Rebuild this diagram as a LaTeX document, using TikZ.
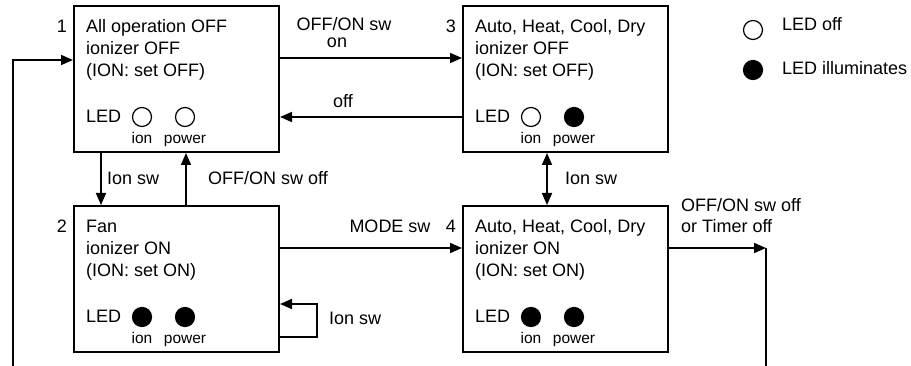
\documentclass[tikz,border=0pt]{standalone}
\usepackage{fontspec}
\setmainfont{Liberation Sans}
\usetikzlibrary{arrows.meta,calc}
\tikzset{
 stbox/.style={draw, line width=2pt, minimum width=205pt, minimum height=146pt, inner sep=0pt},
 txt/.style={font=\fontsize{18}{22}\selectfont, inner sep=0pt, anchor=base west},
 txtc/.style={font=\fontsize{18}{22}\selectfont, inner sep=0pt, anchor=base},
 small/.style={font=\fontsize{15.5}{18}\selectfont, inner sep=0pt, anchor=base},
 led/.style={circle, draw, line width=1.2pt, minimum size=19pt, inner sep=0pt},
 ledon/.style={led, fill=black},
 arr/.style={line width=1.7pt, -{Triangle[length=12pt,width=10pt]}},
 arrboth/.style={line width=1.7pt, {Triangle[length=12pt,width=10pt]}-{Triangle[length=12pt,width=10pt]}},
 conn/.style={line width=1.7pt},
}
\newcommand\statebox[9]{%
 \node[stbox] (#1) at ({#2+102.5},{#3+73}) {};
 \node[txt, anchor=base east] (#1n) at ({#2-7},{#3+27}) {#4};
 \node[txt] (#1a) at ({#2+12},{#3+27}) {#5};
 \node[txt] (#1b) at ({#2+12},{#3+49}) {#6};
 \node[txt] (#1c) at ({#2+12},{#3+71}) {#7};
 \node[txt] (#1led) at ({#2+12},{#3+117}) {LED};
 \node[#8] (#1ion) at ({#2+68},{#3+111}) {};
 \node[#9] (#1pow) at ({#2+111},{#3+111}) {};
 \node[small] (#1ionl) at ({#2+68},{#3+138}) {ion};
 \node[small] (#1powl) at ({#2+111},{#3+138}) {power};
}
\begin{document}
\begin{tikzpicture}[x=1pt,y=-1pt]
\useasboundingbox (0,0) rectangle (911,366);
\statebox{b1}{74}{6}{1}{All operation OFF}{ionizer OFF}{(ION: set OFF)}{led}{led}
\statebox{b3}{463}{6}{3}{Auto, Heat, Cool, Dry}{ionizer OFF}{(ION: set OFF)}{led}{ledon}
\statebox{b2}{74}{206}{2}{Fan}{ionizer ON}{(ION: set ON)}{ledon}{ledon}
\statebox{b4}{463}{206}{4}{Auto, Heat, Cool, Dry}{ionizer ON}{(ION: set ON)}{ledon}{ledon}

% legend
\node[led] (lgoff) at (753,30) {};
\node[ledon] (lgon) at (753,70) {};
\node[txt] (lgofft) at (782,31) {LED off};
\node[txt] (lgont) at (782,75) {LED illuminates};

% box1 <-> box3
\draw[arr] (b1.east |- 0,58) -- (b3.west |- 0,58);
\draw[arr] (b3.west |- 0,117) -- (b1.east |- 0,117);
\node[txtc] (lsw) at (344,31) {OFF/ON sw};
\node[txtc] (lon) at (337,48) {on};
\node[txtc] (loff) at (343,108) {off};

% box1 <-> box2
\draw[arr] (b1.south -| 101,0) -- (b2.north -| 101,0);
\draw[arr] (b2.north -| 186,0) -- (b1.south -| 186,0);
\node[txt] (lion1) at (107,185) {Ion sw};
\node[txt] (loffsw) at (208,185) {OFF/ON sw off};

% box3 <-> box4
\draw[arrboth] (b3.south -| 547,0) -- (b4.north -| 547,0);
\node[txt] (lion2) at (565,185) {Ion sw};

% box2 -> box4
\draw[arr] (b2.east |- 0,248) -- (b4.west |- 0,248);
\node[txtc] (lmode) at (390,233) {MODE sw};

% self loop on box2
\draw[arr] (b2.east |- 0,337) -- (317,337) |- (b2.east |- 0,304);
\node[txt] (lion3) at (329,325) {Ion sw};

% box4 out
\coordinate (r1) at (766,248);
\coordinate (r2) at (766,366);
\draw[arr] (b4.east |- r1) -- (r1);
\draw[conn] (r1) -- (r2);
\node[txt] (lout1) at (681,212) {OFF/ON sw off};
\node[txt] (lout2) at (681,233) {or Timer off};

% return to box1
\coordinate (l0) at (13,366);
\draw[arr] (l0) |- (b1.west |- 0,60);
\end{tikzpicture}
\end{document}
